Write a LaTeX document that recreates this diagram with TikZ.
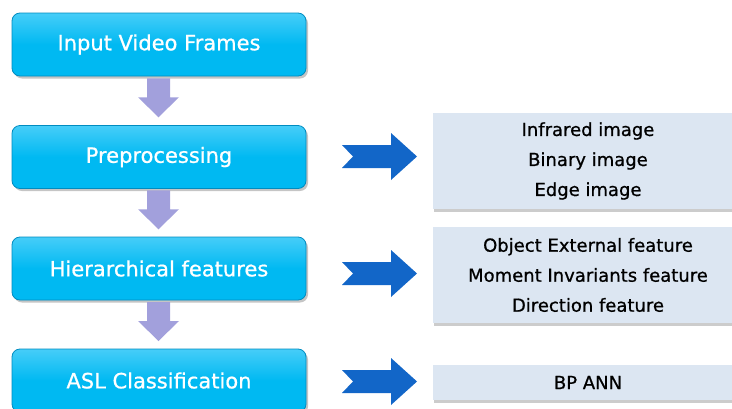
\documentclass[tikz,border=0pt]{standalone}
\usepackage{fontspec}
\setmainfont{DejaVu Sans}
\newfontfamily\heavyfont[FakeBold=0.8]{DejaVu Sans}
\usetikzlibrary{calc,shadows}
\definecolor{boxcyan}{RGB}{0,185,242}
\definecolor{boxtop}{RGB}{70,205,248}
\definecolor{boxedge}{RGB}{0,140,192}
\definecolor{lav}{RGB}{162,160,220}
\definecolor{arrblue}{RGB}{18,102,200}
\definecolor{panelfill}{RGB}{220,230,242}
\begin{document}
\begin{tikzpicture}[x=1pt,y=-1pt,
  stepbox/.style={rounded corners=8pt, top color=boxtop, bottom color=boxcyan, middle color=boxcyan,
    draw=boxedge, line width=0.8pt, minimum width=294pt, minimum height=63pt, inner sep=0pt,
    text=white, font=\heavyfont\fontsize{21}{25}\selectfont,
    drop shadow={shadow xshift=2pt, shadow yshift=-2.5pt, opacity=0.45}},
  panelbox/.style={fill=panelfill, minimum width=310pt, inner sep=0pt, align=center,
    text=black, font=\heavyfont\fontsize{18}{30}\selectfont,
    drop shadow={shadow xshift=1pt, shadow yshift=-2.5pt, opacity=0.4}},
  downarr/.style={fill=lav},
  rightarr/.style={fill=arrblue}]
\useasboundingbox (0,0) rectangle (732,408);
\clip (0,0) rectangle (732,408);
\fill[white] (0,0) rectangle (732,408);

\node[stepbox] (b1) at (159,44.5) {Input Video Frames};
\node[stepbox] (b2) at (159,157) {Preprocessing};
\node[stepbox] (b3) at (159,268.5) {Hierarchical features};
\node[stepbox] (b4) at (159,380.5) {ASL Classification};

\node[panelbox, minimum height=96pt] (p1) at (588,161) {Infrared image\\Binary image\\Edge image};
\node[panelbox, minimum height=96pt] (p2) at (588,275) {Object External feature\\Moment Invariants feature\\Direction feature};
\node[panelbox, minimum height=35pt] (p3) at (588,382.5) {BP ANN};

\foreach \a/\b in {b1/b2,b2/b3,b3/b4}{
  \coordinate (m) at ($(\a.south)!0.5!(\b.north)+(-0.5,-3)$);
  \fill[downarr] ($(m)+(-11.5,-19.5)$) -- ($(m)+(11.5,-19.5)$) -- ($(m)+(11.5,-0.5)$)
    -- ($(m)+(20.5,-0.5)$) -- ($(m)+(0,19.5)$) -- ($(m)+(-20.5,-0.5)$)
    -- ($(m)+(-11.5,-0.5)$) -- cycle;
}

\coordinate (r1) at (379.5,156.5);
\coordinate (r2) at (379.5,273.5);
\coordinate (r3) at (379.5,381.5);
\foreach \r in {r1,r2,r3}{
  \fill[rightarr] ($(\r)+(-37.5,-11.5)$) -- ($(\r)+(11.5,-11.5)$) -- ($(\r)+(11.5,-23.5)$)
    -- ($(\r)+(37.5,0)$) -- ($(\r)+(11.5,23.5)$) -- ($(\r)+(11.5,11.5)$)
    -- ($(\r)+(-37.5,11.5)$) -- ($(\r)+(-26.5,0)$) -- cycle;
}
\end{tikzpicture}
\end{document}
